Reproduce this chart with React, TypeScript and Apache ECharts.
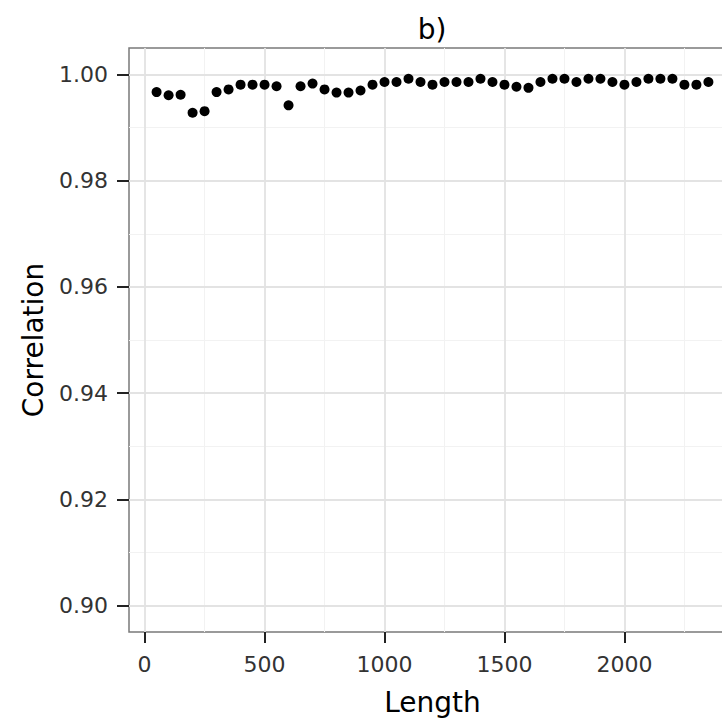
import React, { useEffect, useRef } from "react";
import * as echarts from "echarts";

const lengths = [
  50, 100, 150, 200, 250, 300, 350, 400, 450, 500, 550, 600, 650, 700, 750, 800,
  850, 900, 950, 1000, 1050, 1100, 1150, 1200, 1250, 1300, 1350, 1400, 1450, 1500,
  1550, 1600, 1650, 1700, 1750, 1800, 1850, 1900, 1950, 2000, 2050, 2100, 2150,
  2200, 2250, 2300, 2350,
];
const correlations = [
  0.9967, 0.9961, 0.9962, 0.9928, 0.9931, 0.9967, 0.9972, 0.9981, 0.9981, 0.9981,
  0.9978, 0.9942, 0.9978, 0.9983, 0.9972, 0.9966, 0.9966, 0.997, 0.9981, 0.9986,
  0.9986, 0.9992, 0.9986, 0.9981, 0.9986, 0.9986, 0.9986, 0.9992, 0.9986, 0.9981,
  0.9977, 0.9975, 0.9986, 0.9992, 0.9992, 0.9986, 0.9992, 0.9992, 0.9986, 0.9981,
  0.9986, 0.9992, 0.9992, 0.9992, 0.9981, 0.9981, 0.9986,
];
const xTicks = [0, 500, 1000, 1500, 2000];
const xMinor = [250, 750, 1250, 1750, 2250];
const yTicks = [0.9, 0.92, 0.94, 0.96, 0.98, 1.0];
const yMinor = [0.91, 0.93, 0.95, 0.97, 0.99];
const xRange = [-65, 2465];
const yRange = [0.895, 1.005];
const titleText = "b)";
const xTitle = "Length";
const yTitle = "Correlation";

const FONT = "DejaVu Sans";
const MAJOR = "#e3e3e3";
const MINOR = "#f2f2f2";

export default function App() {
  const ref = useRef<HTMLDivElement>(null);
  useEffect(() => {
    if (!ref.current) return;
    const chart = echarts.init(ref.current, undefined, { renderer: "svg" });

    const minorAxis = (range: number[], values: number[]) => ({
      type: "value",
      min: range[0],
      max: range[1],
      show: true,
      axisLine: { show: false, onZero: false },
      axisTick: { show: false, customValues: values },
      axisLabel: { show: false, customValues: values },
      splitLine: { show: true, lineStyle: { color: MINOR, width: 1 } },
      z: 0,
    });

    chart.setOption({
      animation: false,
      backgroundColor: "#ffffff",
      graphic: [
        {
          type: "text",
          x: 432,
          y: 29,
          style: {
            text: titleText,
            font: `28px '${FONT}'`,
            fill: "#000",
            textAlign: "center",
            textVerticalAlign: "middle",
          },
        },
      ],
      grid: {
        left: 129,
        top: 48,
        width: 607,
        height: 584,
        show: true,
        borderColor: "#7a7a7a",
        borderWidth: 1.5,
        backgroundColor: "transparent",
        containLabel: false,
        outerBoundsMode: "none",
      },
      xAxis: [
        {
          type: "value",
          min: xRange[0],
          max: xRange[1],
          name: xTitle,
          nameLocation: "middle",
          nameGap: 56,
          nameTextStyle: { fontFamily: FONT, fontSize: 28, color: "#000" },
          axisLine: { show: false, onZero: false },
          axisTick: {
            show: true,
            length: 11,
            lineStyle: { color: "#222", width: 2 },
            customValues: xTicks,
          },
          axisLabel: {
            fontFamily: FONT,
            fontSize: 22,
            color: "#333",
            margin: 21,
            customValues: xTicks,
            formatter: (v: number) => String(Math.round(v)),
          },
          splitLine: { show: true, lineStyle: { color: MAJOR, width: 1.8 } },
          z: 1,
        },
        minorAxis(xRange, xMinor),
      ],
      yAxis: [
        {
          type: "value",
          min: yRange[0],
          max: yRange[1],
          name: yTitle,
          nameLocation: "middle",
          nameGap: 82,
          nameTextStyle: { fontFamily: FONT, fontSize: 28, color: "#000" },
          axisLine: { show: false, onZero: false },
          axisTick: {
            show: true,
            length: 12,
            lineStyle: { color: "#222", width: 2 },
            customValues: yTicks,
          },
          axisLabel: {
            fontFamily: FONT,
            fontSize: 22,
            color: "#333",
            margin: 21,
            customValues: yTicks,
            formatter: (v: number) => v.toFixed(2),
          },
          splitLine: { show: true, lineStyle: { color: MAJOR, width: 1.8 } },
          z: 1,
        },
        minorAxis(yRange, yMinor),
      ],
      series: [
        {
          type: "scatter",
          z: 5,
          symbol: "circle",
          symbolSize: 10,
          itemStyle: { color: "#000", opacity: 1 },
          data: lengths.map((x, i) => [x, correlations[i]]),
        },
      ],
    });
    return () => chart.dispose();
  }, []);
  return (
    <div
      ref={ref}
      style={{ position: "absolute", left: 0, top: 0, width: 722, height: 720 }}
    />
  );
}
